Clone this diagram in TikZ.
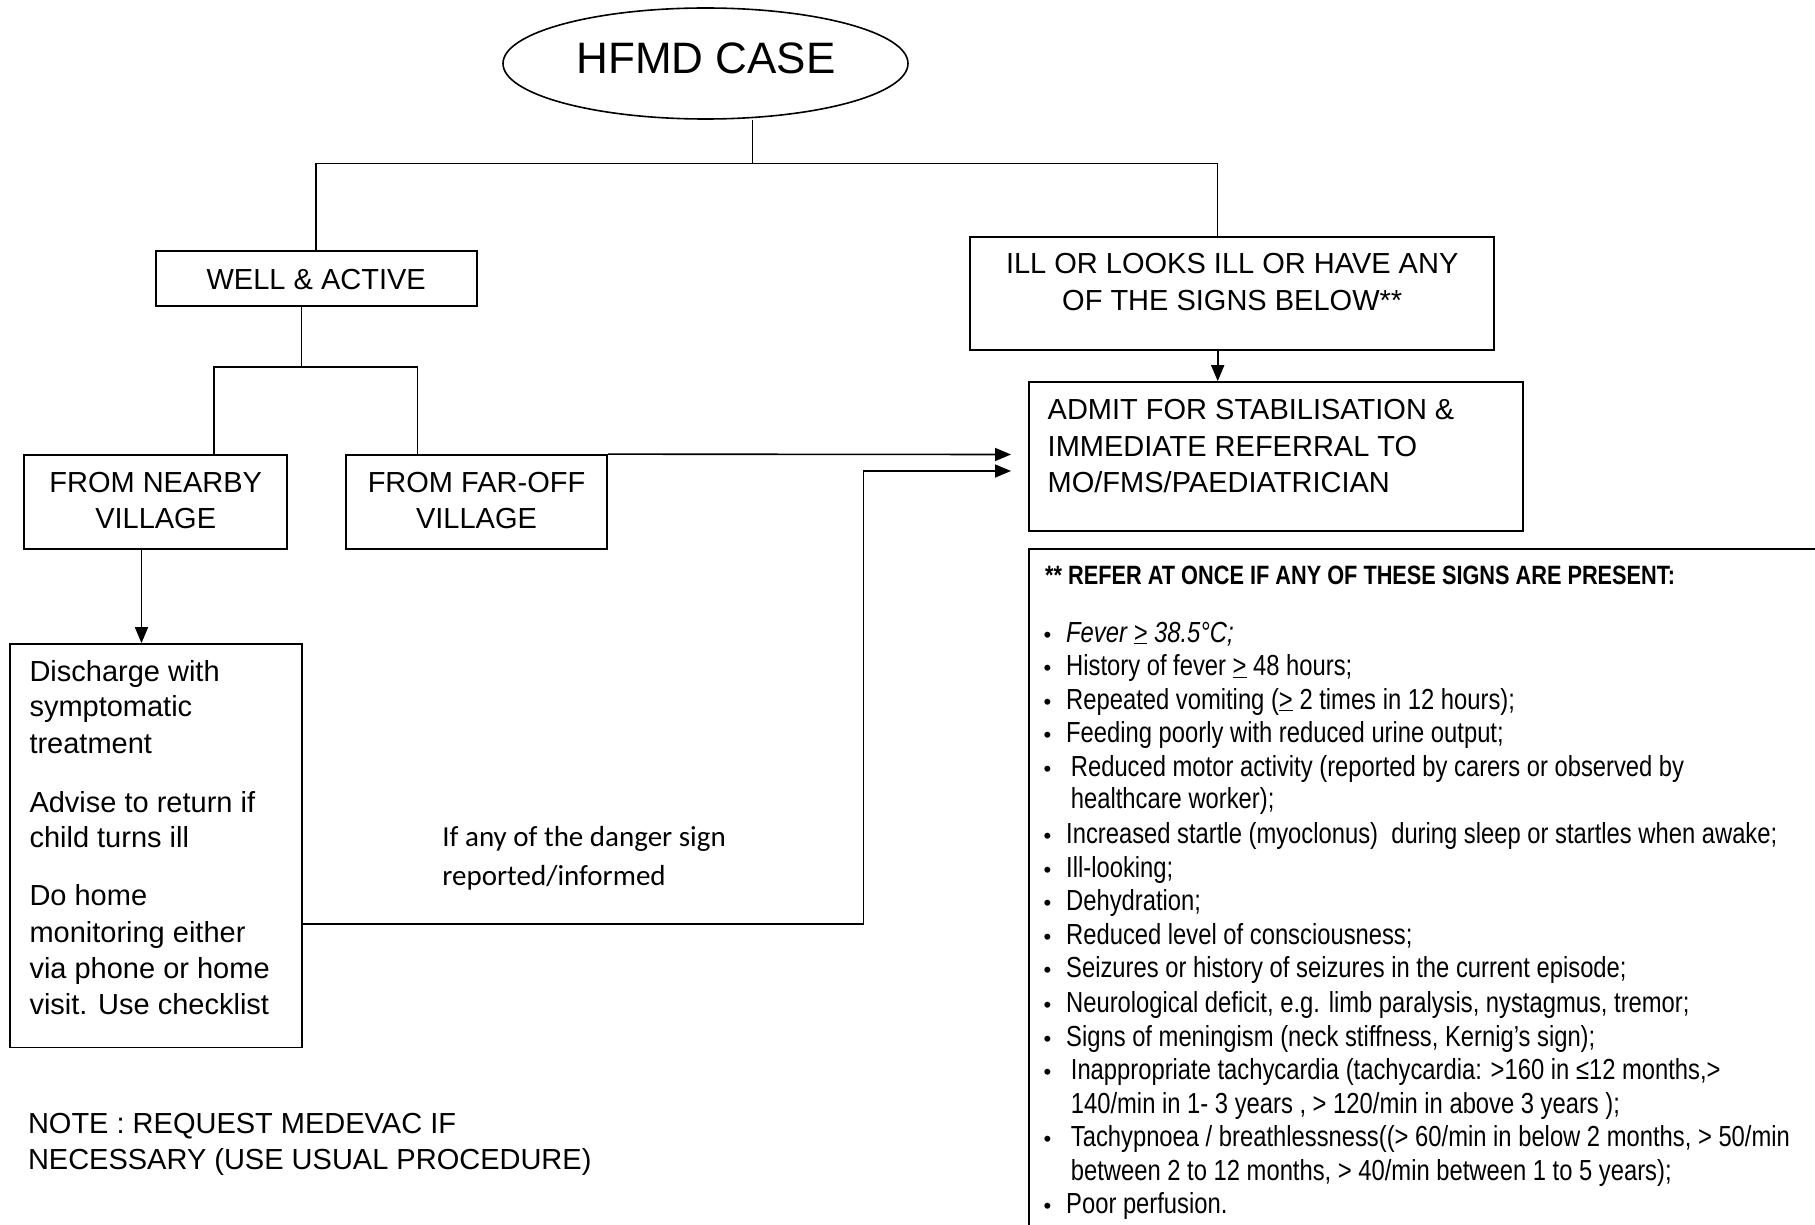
\documentclass[tikz,border=0pt]{standalone}
\usepackage{fontspec}
\setmainfont{Liberation Sans}
\newfontfamily\narrowfont{Liberation Sans}[FakeStretch=0.82]
\newfontfamily\calfont{Carlito}
\usetikzlibrary{shapes.geometric,arrows.meta}
\tikzset{
  boxed/.style={draw, line width=1.8pt, inner sep=0pt},
  conn/.style={line width=1.5pt},
  arr/.style={line width=1.6pt, -{Triangle[length=16pt,width=13pt]}},
  txt/.style={inner sep=0pt, anchor=base, font=\fontsize{29}{35}\selectfont},
  ltxt/.style={inner sep=0pt, anchor=base west, font=\fontsize{29}{35}\selectfont},
  ctxt/.style={inner sep=0pt, anchor=base west, font=\calfont\fontsize{29}{35}\selectfont},
  itxt/.style={inner sep=0pt, anchor=base west, font=\narrowfont\fontsize{29}{33}\selectfont},
  bul/.style={inner sep=0pt, anchor=base, font=\fontsize{22}{33}\selectfont}
}
\begin{document}
\begin{tikzpicture}[x=1pt,y=-1pt]
\useasboundingbox (0,0) rectangle (1815,1225);
\fill[white] (0,0) rectangle (1815,1225);

% ellipse
\node[ellipse, draw, line width=1.6pt, minimum width=405, minimum height=111, inner sep=0pt] (ell) at (705.5,63.5) {};
\node[txt, font=\fontsize{44}{50}\selectfont] (tell) at (706,73.3) {HFMD CASE};

% boxes
\node[boxed, minimum width=321, minimum height=54.7] (well) at (316.2,278.7) {};
\node[txt] (twell) at (316.2,289.3) {WELL \& ACTIVE};

\node[boxed, minimum width=524.3, minimum height=112.3] (ill) at (1232.2,293.5) {};
\node[txt] (till1) at (1232.2,273.2) {ILL OR LOOKS ILL OR HAVE ANY};
\node[txt] (till2) at (1232.2,310.2) {OF THE SIGNS BELOW**};

\node[boxed, minimum width=494.3, minimum height=149.3] (admit) at (1276.2,456.7) {};
\node[ltxt] (tad1) at (1047.5,419) {ADMIT FOR STABILISATION \&};
\node[ltxt] (tad2) at (1047.5,456) {IMMEDIATE REFERRAL TO};
\node[ltxt] (tad3) at (1047.5,492) {MO/FMS/PAEDIATRICIAN};

\node[boxed, minimum width=262.7, minimum height=93.7] (near) at (155.7,501.9) {};
\node[txt] (tnear1) at (155.7,492) {FROM NEARBY};
\node[txt] (tnear2) at (155.7,528) {VILLAGE};

\node[boxed, minimum width=261.5, minimum height=93.7] (far) at (476.5,501.9) {};
\node[txt] (tfar1) at (476.5,492) {FROM FAR-OFF};
\node[txt] (tfar2) at (476.5,528) {VILLAGE};

\node[boxed, minimum width=291.6, minimum height=403.5] (dis) at (156,845.8) {};
\node[ltxt] (td1) at (29.3,681) {Discharge with};
\node[ltxt] (td2) at (29.3,716.8) {symptomatic};
\node[ltxt] (td3) at (29.3,753.1) {treatment};
\node[ltxt] (td4) at (29.3,812) {Advise to return if};
\node[ltxt] (td5) at (29.3,847.5) {child turns ill};
\node[ltxt] (td6) at (29.3,905.3) {Do home};
\node[ltxt] (td7) at (29.3,942) {monitoring either};
\node[ltxt] (td8) at (29.3,978) {via phone or home};
\node[ltxt] (td9) at (29.3,1014) {visit. Use checklist};

% danger label
\node[ctxt] (dl1) at (442.2,846.5) {If any of the danger sign};
\node[ctxt] (dl2) at (442.2,885.5) {reported/informed};

% note
\node[ltxt] (n1) at (27.8,1133.2) {NOTE : REQUEST MEDEVAC IF};
\node[ltxt] (n2) at (27.8,1169.1) {NECESSARY (USE USUAL PROCEDURE)};

% connectors
\coordinate (j0) at (752.7,163.5);
\coordinate (ja) at (1217.7,163.5);
\draw[conn] (j0 |- ell.south) -- (j0);
\draw[conn] (well.north) |- (j0) -- (ja) -- (ja |- ill.north);
\draw[arr] (ja |- ill.south) -- (ja |- admit.north);

\coordinate (jw) at (301.7,367);
\coordinate (jn) at (214,367);
\coordinate (jf) at (417.7,367);
\draw[conn] (jw |- well.south) -- (jw);
\draw[conn] (jn |- near.north) -- (jn) -- (jf) -- (jf |- far.north);

\coordinate (jd) at (141.5,0);
\draw[arr] (jd |- near.south) -- (jd |- dis.north);

\coordinate (t1) at (1011,454.5);
\draw[arr] (far.north east) -- (t1);
\coordinate (c2) at (863.3,923.7);
\coordinate (t2) at (1011,471);
\draw[arr] (c2 -| dis.east) -- (c2) |- (t2);

% signs box (open to the right and bottom)
\coordinate (lb) at (1029,548.7);
\draw[line width=1.8pt] (1815,548.7) -- (lb) -- (1029,1225);

\node[itxt, font=\narrowfont\bfseries\fontsize{26.5}{30}\selectfont] (hdr) at (1045,584) {** REFER AT ONCE IF ANY OF THESE SIGNS ARE PRESENT:};

\foreach \yy [count=\i] in {642,675.6,709.1,742.7,776.3,843.4,877,910.5,944.1,977.7,1012.4,1046,1079.5,1146.7,1213.8}
  \node[bul] (b\i) at (1047.5,\yy) {\textbullet};

\node[itxt] (s1) at (1066,642) {\itshape Fever \underline{>} 38.5°C;};
\node[itxt] (s2) at (1066,675.6) {History of fever \underline{>} 48 hours;};
\node[itxt] (s3) at (1066,709.1) {Repeated vomiting (\underline{>} 2 times in 12 hours);};
\node[itxt] (s4) at (1066,742.7) {Feeding poorly with reduced urine output;};
\node[itxt] (s5) at (1070.7,776.3) {Reduced motor activity (reported by carers or observed by};
\node[itxt] (s5b) at (1070.7,808.7) {healthcare worker);};
\node[itxt] (s6) at (1066,843.4) {Increased startle (myoclonus) \ during sleep or startles when awake;};
\node[itxt] (s7) at (1066,877) {Ill-looking;};
\node[itxt] (s8) at (1066,910.5) {Dehydration;};
\node[itxt] (s9) at (1066,944.1) {Reduced level of consciousness;};
\node[itxt] (s10) at (1066,977.7) {Seizures or history of seizures in the current episode;};
\node[itxt] (s11) at (1066,1012.4) {Neurological deficit, e.g. limb paralysis, nystagmus, tremor;};
\node[itxt] (s12) at (1066,1046) {Signs of meningism (neck stiffness, Kernig’s sign);};
\node[itxt] (s13) at (1070.7,1079.5) {Inappropriate tachycardia (tachycardia: >160 in ≤12 months,>};
\node[itxt] (s13b) at (1070.7,1113.1) {140/min in 1- 3 years , > 120/min in above 3 years );};
\node[itxt] (s14) at (1070.7,1146.7) {Tachypnoea / breathlessness((> 60/min in below 2 months, > 50/min};
\node[itxt] (s14b) at (1070.7,1180.2) {between 2 to 12 months, > 40/min between 1 to 5 years);};
\node[itxt] (s15) at (1066,1213.8) {Poor perfusion.};
\end{tikzpicture}
\end{document}
